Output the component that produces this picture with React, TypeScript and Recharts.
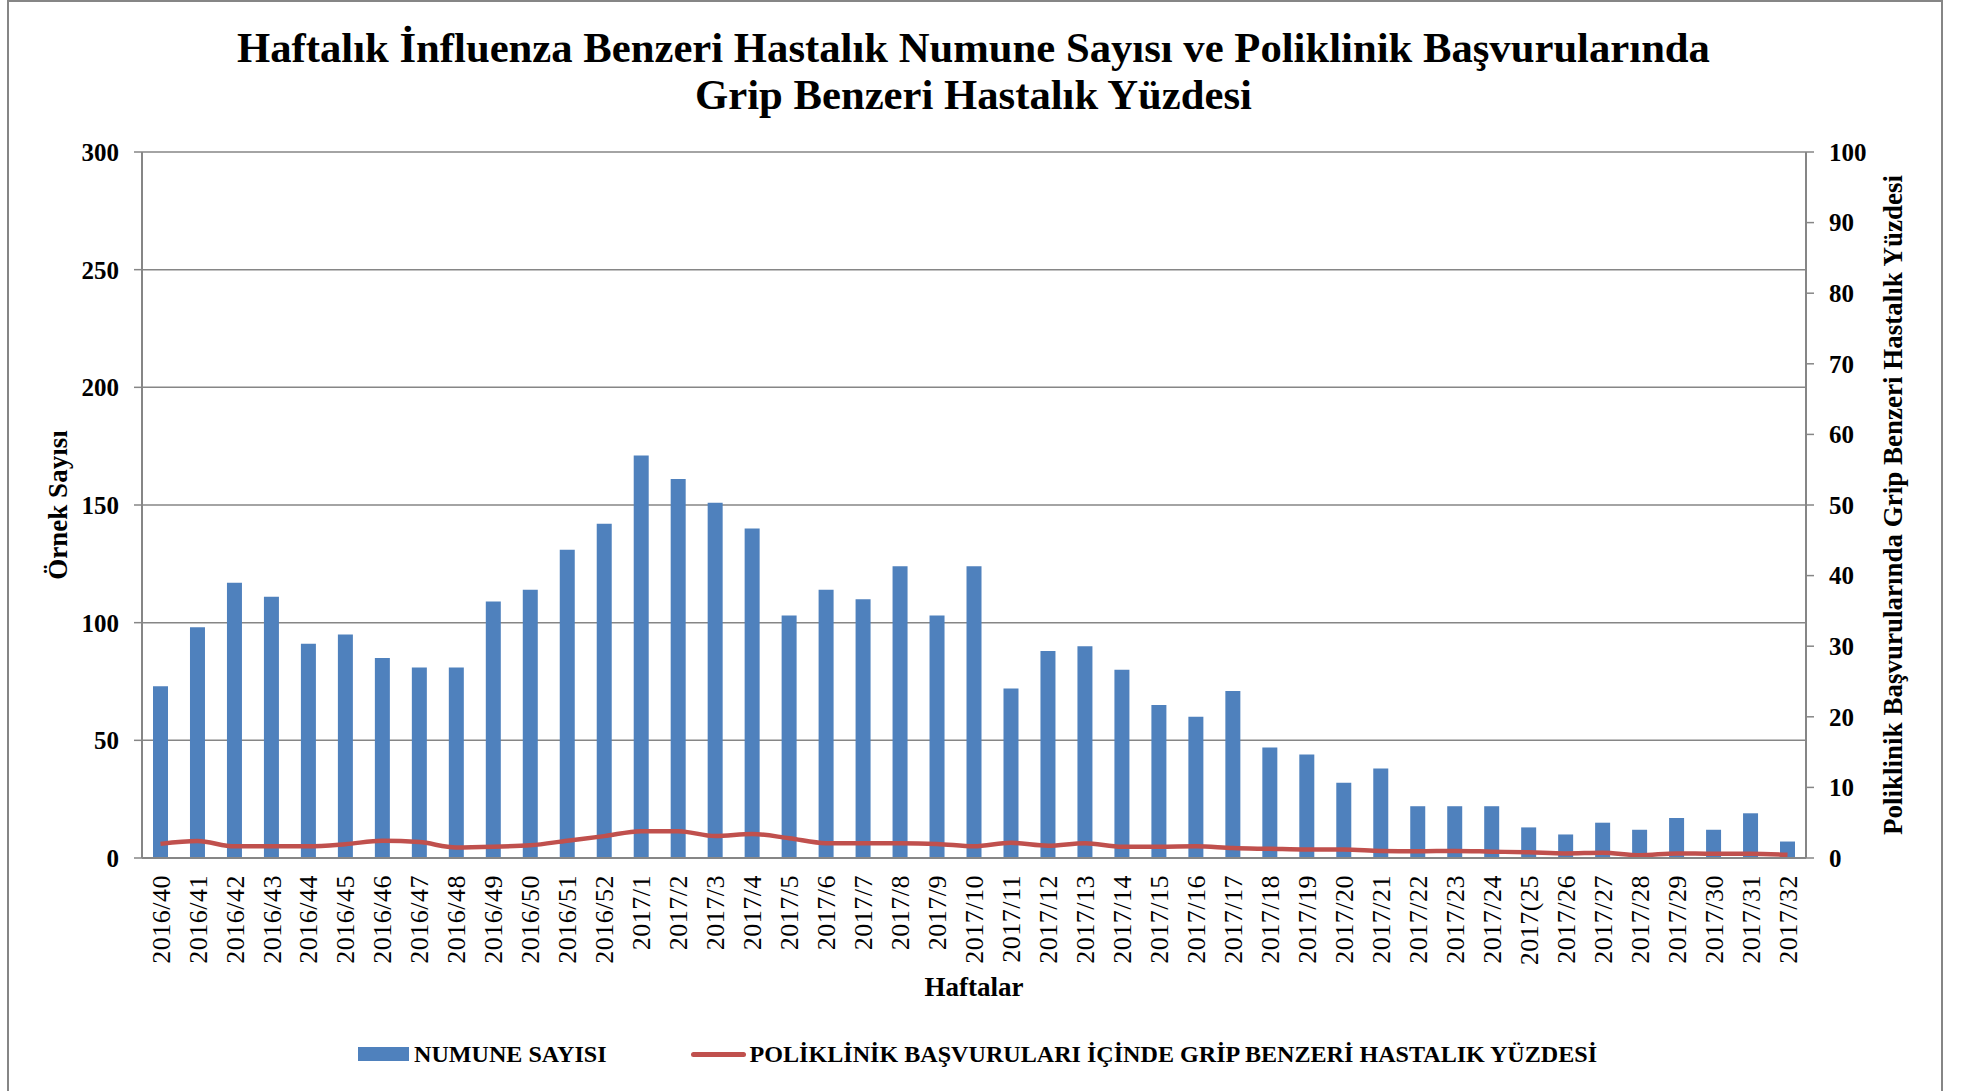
import {
  ComposedChart,
  Bar,
  Line,
  XAxis,
  YAxis,
  CartesianGrid,
} from 'recharts';

const weeks = [
  '2016/40', '2016/41', '2016/42', '2016/43', '2016/44', '2016/45', '2016/46', '2016/47', '2016/48',
  '2016/49', '2016/50', '2016/51', '2016/52',
  '2017/1', '2017/2', '2017/3', '2017/4', '2017/5', '2017/6', '2017/7', '2017/8', '2017/9', '2017/10',
  '2017/11', '2017/12', '2017/13', '2017/14', '2017/15', '2017/16', '2017/17', '2017/18', '2017/19',
  '2017/20', '2017/21', '2017/22', '2017/23', '2017/24', '2017(25', '2017/26', '2017/27', '2017/28',
  '2017/29', '2017/30', '2017/31', '2017/32',
];

const sampleCounts = [
  73, 98, 117, 111, 91, 95, 85, 81, 81,
  109, 114, 131, 142,
  171, 161, 151, 140, 103, 114, 110, 124, 103, 124,
  72, 88, 90, 80, 65, 60, 71, 47, 44,
  32, 38, 22, 22, 22, 13, 10, 15, 12,
  17, 12, 19, 7,
];

const iliPercent = [
  2.0, 2.4, 1.65, 1.65, 1.65, 1.95, 2.45, 2.25, 1.5,
  1.6, 1.8, 2.45, 3.1,
  3.8, 3.8, 3.1, 3.4, 2.8, 2.1, 2.1, 2.1, 2.0, 1.65,
  2.15, 1.75, 2.1, 1.6, 1.6, 1.65, 1.4, 1.3, 1.2,
  1.2, 1.0, 0.95, 1.0, 0.9, 0.8, 0.65, 0.75, 0.4,
  0.65, 0.6, 0.6, 0.45,
];

const leftTicks = [0, 50, 100, 150, 200, 250, 300];
const rightTicks = [0, 10, 20, 30, 40, 50, 60, 70, 80, 90, 100];

const data = weeks.map((w, i) => ({
  week: w,
  count: sampleCounts[i],
  pct: iliPercent[i],
}));

const SERIF = '"Liberation Serif", "Times New Roman", serif';
const GRAY = '#868686';
const BLUE = '#4F81BD';
const RED = '#C0504D';

function WeekTick({ x, y, payload }: any) {
  return (
    <text
      x={x}
      y={y}
      transform={`rotate(-90 ${x} ${y})`}
      textAnchor="end"
      dy="0.35em"
      fontSize={26}
      letterSpacing={0.5}
      fontFamily={SERIF}
      fill="#000"
    >
      {payload.value}
    </text>
  );
}

export default function App() {
  const tickStyle = { fontSize: 25, fontFamily: SERIF, fontWeight: 'bold', fill: '#000' };
  const axisTitle = { fontSize: 27, fontFamily: SERIF, fontWeight: 'bold', fill: '#000', textAnchor: 'middle' as const };

  return (
    <div style={{ position: 'absolute', left: 0, top: 0, width: 1966, height: 1091, background: '#fff', overflow: 'hidden' }}>
      <div
        style={{
          position: 'absolute',
          left: 7,
          top: 0,
          width: 1932,
          height: 1100,
          border: `2px solid ${GRAY}`,
        }}
      />
      <div
        style={{
          position: 'absolute',
          left: 0,
          top: 24,
          width: 1947,
          textAlign: 'center',
          fontFamily: SERIF,
          fontWeight: 'bold',
          fontSize: 42.7,
          lineHeight: '47px',
          color: '#000',
        }}
      >
        Haftalık İnfluenza Benzeri Hastalık Numune Sayısı ve Poliklinik Başvurularında
        <br />
        Grip Benzeri Hastalık Yüzdesi
      </div>

      <div style={{ position: 'absolute', left: 0, top: 0 }}>
        <ComposedChart
          width={1966}
          height={1091}
          data={data}
          margin={{ top: 152, right: 0, left: 0, bottom: 93 }}
        >
          <CartesianGrid yAxisId="left" vertical={false} stroke={GRAY} strokeWidth={1.5} />
          <XAxis
            dataKey="week"
            interval={0}
            tickLine={false}
            tickSize={0}
            tickMargin={17}
            height={140}
            axisLine={{ stroke: GRAY, strokeWidth: 2 }}
            tick={<WeekTick />}
            label={{ value: 'Haftalar', position: 'insideBottom', offset: 2, style: axisTitle }}
          />
          <YAxis
            yAxisId="left"
            orientation="left"
            width={142}
            domain={[0, 300]}
            ticks={leftTicks}
            interval={0}
            tickSize={8}
            tickMargin={15}
            tickLine={{ stroke: GRAY, strokeWidth: 1.5 }}
            axisLine={{ stroke: GRAY, strokeWidth: 2 }}
            tick={tickStyle}
            label={{ value: 'Örnek Sayısı', angle: -90, position: 'insideLeft', offset: 57, style: axisTitle }}
          />
          <YAxis
            yAxisId="right"
            orientation="right"
            width={160}
            domain={[0, 100]}
            ticks={rightTicks}
            interval={0}
            tickSize={8}
            tickMargin={15}
            tickLine={{ stroke: GRAY, strokeWidth: 1.5 }}
            axisLine={{ stroke: GRAY, strokeWidth: 2 }}
            tick={tickStyle}
            label={{
              value: 'Poliklinik Başvurularında Grip Benzeri Hastalık Yüzdesi',
              angle: -90,
              position: 'insideRight',
              offset: 74,
              style: axisTitle,
            }}
          />
          <Bar yAxisId="left" dataKey="count" fill={BLUE} barSize={15} isAnimationActive={false} />
          <Line
            yAxisId="right"
            dataKey="pct"
            type="monotone"
            stroke={RED}
            strokeWidth={4.5}
            dot={false}
            isAnimationActive={false}
          />
        </ComposedChart>
      </div>

      <div
        style={{
          position: 'absolute',
          left: 358,
          top: 1036,
          height: 36,
          display: 'flex',
          alignItems: 'center',
          fontFamily: SERIF,
          fontWeight: 'bold',
          fontSize: 24.1,
          color: '#000',
          whiteSpace: 'nowrap',
        }}
      >
        <span style={{ display: 'inline-block', width: 51, height: 14, background: BLUE, marginRight: 5 }} />
        <span>NUMUNE SAYISI</span>
        <span
          style={{
            display: 'inline-block',
            width: 55,
            height: 5,
            borderRadius: 3,
            background: RED,
            marginLeft: 84,
            marginRight: 4,
          }}
        />
        <span>POLİKLİNİK BAŞVURULARI İÇİNDE GRİP BENZERİ HASTALIK YÜZDESİ</span>
      </div>
    </div>
  );
}
